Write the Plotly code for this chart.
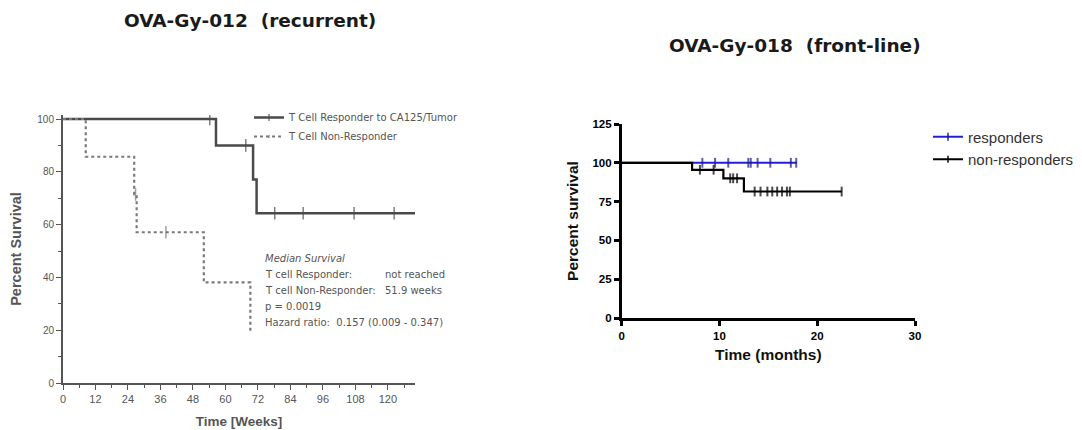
import plotly.graph_objects as go

W, H = 1082, 430
OFF = 8  # page body margin offset seen in the rendered page
def px(x): return (x - OFF) / W
def py(y): return 1 - (y - OFF) / H

# ---------------- Left panel data (OVA-Gy-012, weeks) ----------------
resp_t = [0, 56.5, 70.2, 71.5, 130]
resp_s = [100, 90.0, 77.1, 64.3, 64.3]
resp_cens_t = [54.2, 67.5, 78.2, 88.7, 107.5, 122.3]
resp_cens_s = [100, 90.0, 64.3, 64.3, 64.3, 64.3]

non_t = [0, 8.4, 26.3, 27.2, 52.0, 69.2]
non_s = [100, 85.7, 71.4, 57.1, 38.1, 19.0]
non_cens_t = [26.8, 38.0]
non_cens_s = [71.4, 57.1]

left_xticks = [0, 12, 24, 36, 48, 60, 72, 84, 96, 108, 120]
left_yticks = [0, 20, 40, 60, 80, 100]

# ---------------- Right panel data (OVA-Gy-018, months) ----------------
r_resp_t = [0, 17.9]
r_resp_s = [100, 100]
r_resp_cens_t = [8.25, 9.55, 10.9, 12.95, 13.2, 13.9, 15.2, 17.3, 17.85]
r_resp_cens_s = [100] * 9

r_non_t = [0, 7.2, 10.4, 12.5, 22.5]
r_non_s = [100, 95.5, 90.0, 81.5, 81.5]
r_non_cens_t = [8.0, 9.4, 11.1, 11.4, 11.8, 13.6, 14.2, 14.9, 15.4, 15.9, 16.4, 16.9, 17.2, 22.5]
r_non_cens_s = [95.5, 95.5, 90, 90, 90, 81.5, 81.5, 81.5, 81.5, 81.5, 81.5, 81.5, 81.5, 81.5]

right_xticks = [0, 10, 20, 30]
right_yticks = [0, 25, 50, 75, 100, 125]

med_left = ["<i>Median Survival</i>", "T cell Responder:", "T cell Non-Responder:", "p = 0.0019",
            "Hazard ratio:  0.157 (0.009 - 0.347)"]
med_right = ["", "not reached", "51.9 weeks", "", ""]


def merge(t, s, ct, cs, msize):
    pts = [(a, b, 0) for a, b in zip(t, s)] + [(a, b, msize) for a, b in zip(ct, cs)]
    pts.sort(key=lambda p: p[0])
    return [p[0] for p in pts], [p[1] for p in pts], [p[2] for p in pts]


fig = go.Figure()
ARIAL = "Arial, Liberation Sans, sans-serif"
DEJA = "DejaVu Sans, sans-serif"
GRAY = "#555555"

# Left traces
x, y, sz = merge(resp_t, resp_s, resp_cens_t, resp_cens_s, 9)
fig.add_trace(go.Scatter(
    x=x, y=y, mode="lines+markers", line=dict(color="#4a4a4a", width=2.5, shape="hv"),
    marker=dict(symbol="line-ns", size=sz, line=dict(color="#4a4a4a", width=1.5)),
    name="T Cell Responder to CA125/Tumor", xaxis="x", yaxis="y", legend="legend"))
x, y, sz = merge(non_t, non_s, non_cens_t, non_cens_s, 9)
fig.add_trace(go.Scatter(
    x=x, y=y, mode="lines+markers", line=dict(color="#7a7a7a", width=2.2, shape="hv", dash="dot"),
    marker=dict(symbol="line-ns", size=sz, line=dict(color="#7a7a7a", width=1.5)),
    name="T Cell Non-Responder", xaxis="x", yaxis="y", legend="legend"))

# Right traces (blue drawn first, black on top)
x, y, sz = merge(r_resp_t, r_resp_s, r_resp_cens_t, r_resp_cens_s, 7)
fig.add_trace(go.Scatter(
    x=x, y=y, mode="lines+markers", line=dict(color="#2020d8", width=2, shape="hv"),
    marker=dict(symbol="line-ns", size=sz, line=dict(color="#1a1a8c", width=2)),
    name="responders", xaxis="x2", yaxis="y2", legend="legend2"))
x, y, sz = merge(r_non_t, r_non_s, r_non_cens_t, r_non_cens_s, 7)
fig.add_trace(go.Scatter(
    x=x, y=y, mode="lines+markers", line=dict(color="black", width=2.2, shape="hv"),
    marker=dict(symbol="line-ns", size=sz, line=dict(color="black", width=2)),
    name="non-responders", xaxis="x2", yaxis="y2", legend="legend2"))

# Axis geometry (pixels in the picture)
lx0, lx1 = 63, 415
ly0, ly1 = 383, 115
rx0, rx1 = 621.7, 915
ry0, ry1 = 318, 124

annos = []
annos.append(dict(text="<b>OVA-Gy-012  (recurrent)</b>", x=px(249.5), y=py(20), xref="paper", yref="paper",
                  xanchor="center", yanchor="middle",
                  showarrow=False, font=dict(family=DEJA, size=18.5, color="#1a1a1a")))
annos.append(dict(text="<b>OVA-Gy-018  (front-line)</b>", x=px(795), y=py(46), xref="paper", yref="paper",
                  xanchor="center", yanchor="middle",
                  showarrow=False, font=dict(family=DEJA, size=18.5, color="#1a1a1a")))

ys = [258, 274, 290, 306, 322]
for a, b, yy in zip(med_left, med_right, ys):
    annos.append(dict(text=a, x=px(263), y=py(yy), xref="paper", yref="paper", xanchor="left",
                      yanchor="middle", showarrow=False, font=dict(family=DEJA, size=10, color=GRAY)))
    if b:
        annos.append(dict(text=b, x=px(383), y=py(yy), xref="paper", yref="paper", xanchor="left",
                          yanchor="middle", showarrow=False, font=dict(family=DEJA, size=10, color=GRAY)))

fig.update_layout(
    width=W, height=H, margin=dict(l=0, r=0, t=0, b=0, autoexpand=False),
    paper_bgcolor="white", plot_bgcolor="white",
    font=dict(family=ARIAL),
    annotations=annos,
    xaxis=dict(domain=[px(lx0), px(lx1)], range=[0, 130], anchor="y", automargin=False,
               tickvals=left_xticks, ticks="outside", ticklen=5, tickwidth=1.3, tickcolor=GRAY,
               minor=dict(dtick=6, tick0=0, ticks="outside", ticklen=3, tickcolor=GRAY),
               showline=True, linecolor=GRAY, linewidth=2, showgrid=False, zeroline=False,
               tickfont=dict(size=11, color=GRAY, family=ARIAL),
               title=dict(text="<b>Time [Weeks]</b>", font=dict(size=13.5, color=GRAY), standoff=12)),
    yaxis=dict(domain=[py(ly0), py(ly1)], range=[0, 100 * (ly0 - ly1) / (ly0 - 119)], anchor="x",
               automargin=False,
               tickvals=left_yticks, ticks="outside", ticklen=5, tickwidth=1.3, tickcolor=GRAY,
               minor=dict(dtick=10, tick0=0, ticks="outside", ticklen=3, tickcolor=GRAY),
               showline=True, linecolor=GRAY, linewidth=2, showgrid=False, zeroline=False,
               tickfont=dict(size=10, color=GRAY, family=ARIAL),
               title=dict(text="<b>Percent Survival</b>", font=dict(size=14.5, color=GRAY), standoff=16)),
    xaxis2=dict(domain=[px(rx0), px(rx1)], range=[0, 30], anchor="y2", automargin=False,
                tickvals=right_xticks, ticks="outside", ticklen=5, tickwidth=2.5, tickcolor="black",
                showline=True, linecolor="black", linewidth=2.5, showgrid=False, zeroline=False,
                tickfont=dict(size=11.5, color="black", family=ARIAL, weight="bold"),
                title=dict(text="<b>Time (months)</b>", font=dict(size=15.5, color="#111"), standoff=9)),
    yaxis2=dict(domain=[py(ry0), py(ry1)], range=[0, 125], anchor="x2", automargin=False,
                tickvals=right_yticks, ticks="outside", ticklen=5, tickwidth=2.5, tickcolor="black",
                showline=True, linecolor="black", linewidth=2.5, showgrid=False, zeroline=False,
                tickfont=dict(size=11.5, color="black", family=ARIAL, weight="bold"),
                title=dict(text="<b>Percent survival</b>", font=dict(size=15.5, color="#111"), standoff=11)),
    legend=dict(x=px(249), y=py(127), xanchor="left", yanchor="middle", bgcolor="rgba(0,0,0,0)",
                font=dict(size=10, color=GRAY, family=DEJA), tracegroupgap=0, itemwidth=30),
    legend2=dict(x=px(928), y=py(148), xanchor="left", yanchor="middle", bgcolor="rgba(0,0,0,0)",
                 font=dict(size=15, color="#333", family=ARIAL), tracegroupgap=0, itemwidth=30),
)

fig.write_html("out.html")
